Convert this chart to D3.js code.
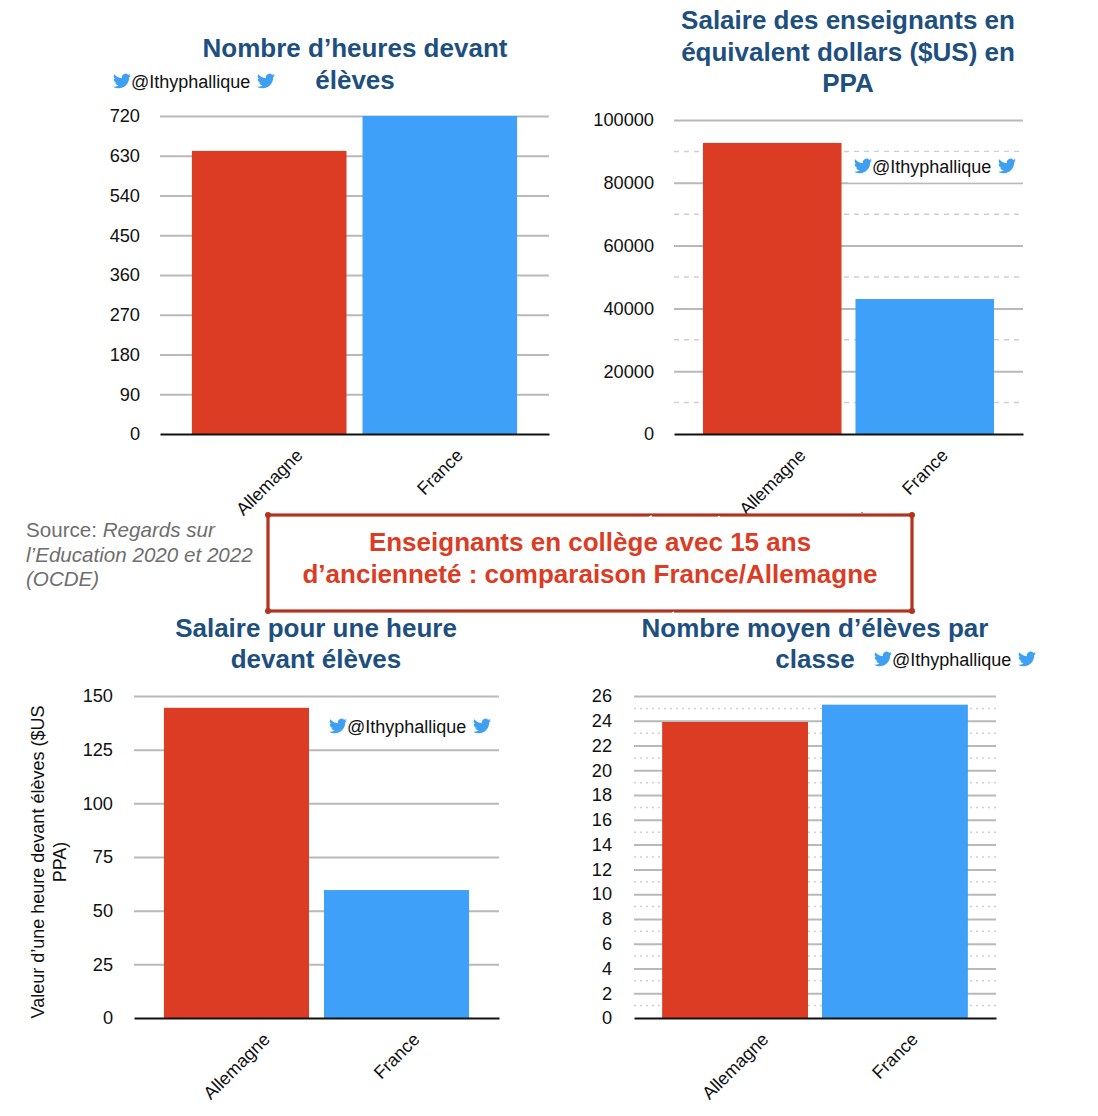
<!DOCTYPE html>
<html lang="fr">
<head>
<meta charset="utf-8">
<script src="https://cdn.jsdelivr.net/npm/d3@7"></script>
<style>
  html, body { margin: 0; padding: 0; background: #fff; }
  svg { display: block; }
  text { font-family: "Liberation Sans", Arial, sans-serif; }
</style>
</head>
<body>
<script>
// Data
const countries = ["Allemagne", "France"];
const hours = [641, 720];
const salaries = [92700, 43000];
const hourlyPay = [144.5, 59.6];
const classSize = [23.9, 25.3];

const hoursTicks = [0, 90, 180, 270, 360, 450, 540, 630, 720];
const salaryTicks = [0, 20000, 40000, 60000, 80000, 100000];
const salaryMinor = [10000, 30000, 50000, 70000, 90000];
const hourlyTicks = [0, 25, 50, 75, 100, 125, 150];
const classTicks = [0, 2, 4, 6, 8, 10, 12, 14, 16, 18, 20, 22, 24, 26];
const classMinor = [1, 3, 5, 7, 9, 11, 13, 15, 17, 19, 21, 23, 25];

const handle = "@Ithyphallique";
const barColors = ["#dc3c24", "#3ea0f8"];
const titleColor = "#1d4f7f";

const svg = d3.select("body").append("svg").attr("width", 1098).attr("height", 1116);

// Slight wobble for the hand-drawn frame of the headline box
const rough = svg.append("defs").append("filter").attr("id", "rough")
  .attr("filterUnits", "userSpaceOnUse")
  .attr("x", 255).attr("y", 503).attr("width", 670).attr("height", 120);
rough.append("feTurbulence").attr("type", "fractalNoise").attr("baseFrequency", 0.09)
  .attr("numOctaves", 2).attr("seed", 4).attr("result", "noise");
rough.append("feDisplacementMap").attr("in", "SourceGraphic").attr("in2", "noise").attr("scale", 1.6);

const BIRD = "M23.95 4.57a10 10 0 0 1-2.82.78 4.96 4.96 0 0 0 2.16-2.72c-.95.56-2 .96-3.12 1.19a4.92 4.92 0 0 0-8.38 4.48C7.69 8.1 4.07 6.13 1.64 3.16a4.82 4.82 0 0 0-.67 2.48c0 1.71.87 3.21 2.19 4.1a4.9 4.9 0 0 1-2.23-.61v.06a4.92 4.92 0 0 0 3.95 4.83 5 5 0 0 1-2.21.08 4.94 4.94 0 0 0 4.6 3.42A9.87 9.87 0 0 1 0 19.54a14 14 0 0 0 7.56 2.21c9.05 0 14-7.5 14-13.98 0-.21 0-.42-.02-.63a9.94 9.94 0 0 0 2.46-2.55z";

function bird(x, y) {
  svg.append("path").attr("d", BIRD)
    .attr("transform", `translate(${x},${y}) scale(0.75)`)
    .attr("fill", "#3ea0ee");
}

// Twitter handle flanked by two bird icons, optionally on a white plate
function signature(x, y, plateWidth) {
  if (plateWidth) {
    svg.append("rect").attr("x", x - 6).attr("y", y - 21)
      .attr("width", plateWidth).attr("height", 30.5).attr("fill", "#fff");
  }
  bird(x, y - 16);
  svg.append("text").attr("x", x + 18).attr("y", y)
    .attr("font-size", 18).attr("fill", "#111").text(handle);
  bird(x + 144, y - 16);
}

function panel(p) {
  const g = svg.append("g");
  const y = d3.scaleLinear().domain([0, p.max]).range([p.bottom, p.top]);
  const x = d3.scaleBand().domain(countries).range([p.left, p.right])
    .paddingInner(p.inner).paddingOuter(p.outer);

  // Minor gridlines
  g.selectAll("line.minor").data(p.minor || []).join("line")
    .attr("class", "minor")
    .attr("x1", p.left).attr("x2", p.right)
    .attr("y1", d => y(d)).attr("y2", d => y(d))
    .attr("stroke", "#cfcfcf").attr("stroke-width", 1.5)
    .attr("stroke-dasharray", p.minorDash);

  // Value axis: ticks become the major gridlines
  const yAxis = g.append("g").attr("transform", `translate(${p.left},0)`)
    .call(d3.axisLeft(y).tickValues(p.ticks).tickFormat(d3.format("d"))
      .tickSize(-(p.right - p.left)).tickPadding(p.pad));
  yAxis.select(".domain").remove();
  yAxis.selectAll(".tick line").attr("stroke", "#b9b9b9").attr("stroke-width", 2)
    .filter(d => d === 0).remove();
  yAxis.selectAll("text").attr("font-size", 18.2).attr("fill", "#111")
    .style("font-family", '"Liberation Sans", Arial, sans-serif');

  // Bars
  g.selectAll("rect.bar").data(p.values).join("rect")
    .attr("class", "bar")
    .attr("x", (d, i) => x(countries[i]))
    .attr("width", x.bandwidth())
    .attr("y", d => y(d))
    .attr("height", d => y(0) - y(d))
    .attr("fill", (d, i) => barColors[i]);

  // Category axis: slanted labels centred under their bars, top edges aligned
  const xAxis = g.append("g").attr("transform", `translate(0,${p.bottom})`)
    .call(d3.axisBottom(x).tickSize(0));
  xAxis.select(".domain").attr("stroke", "#111").attr("stroke-width", 2);
  xAxis.selectAll("text")
    .attr("font-size", 18).attr("fill", "#111")
    .style("font-family", '"Liberation Sans", Arial, sans-serif')
    .attr("text-anchor", "middle")
    .attr("y", 0).attr("dy", "0.35em")
    .attr("transform", function () {
      const half = this.getComputedTextLength() * Math.SQRT1_2 / 2;
      return `translate(${p.labelDx},${p.labelGap + half}) rotate(-45)`;
    });

  // Title
  const title = svg.append("text").attr("text-anchor", "middle")
    .attr("font-size", 26).attr("font-weight", 700).attr("fill", titleColor);
  p.title.forEach((line, i) => {
    title.append("tspan").attr("x", p.titleX).attr("y", p.titleY + i * p.titleStep).text(line);
  });
}

panel({
  values: hours, max: 720, ticks: hoursTicks,
  left: 160, right: 549, top: 116, bottom: 434, inner: 0.0936, outer: 0.187,
  pad: 20, labelDx: 0, labelGap: 18,
  title: ["Nombre d’heures devant", "élèves"], titleX: 355, titleY: 57, titleStep: 32
});
panel({
  values: salaries, max: 100000, ticks: salaryTicks, minor: salaryMinor, minorDash: "5 5",
  left: 674, right: 1023, top: 120, bottom: 434, inner: 0.0915, outer: 0.19,
  pad: 20, labelDx: 0, labelGap: 18,
  title: ["Salaire des enseignants en", "équivalent dollars ($US) en", "PPA"],
  titleX: 848, titleY: 29, titleStep: 31.5
});
panel({
  values: hourlyPay, max: 150, ticks: hourlyTicks,
  left: 134, right: 499, top: 696, bottom: 1018, inner: 0.0935, outer: 0.187,
  pad: 21, labelDx: 0, labelGap: 18,
  title: ["Salaire pour une heure", "devant élèves"], titleX: 316, titleY: 637, titleStep: 31
});
panel({
  values: classSize, max: 26, ticks: classTicks, minor: classMinor, minorDash: "2 4",
  left: 634, right: 996, top: 696, bottom: 1018, inner: 0.0875, outer: 0.176,
  pad: 22, labelDx: 0, labelGap: 18,
  title: ["Nombre moyen d’élèves par", "classe"], titleX: 815, titleY: 637, titleStep: 31
});

// Vertical axis caption of the hourly-pay panel
const yCaption = svg.append("text").attr("text-anchor", "middle")
  .attr("transform", "rotate(-90)")
  .attr("font-size", 18).attr("fill", "#111");
yCaption.append("tspan").attr("x", -862).attr("y", 44).text("Valeur d’une heure devant élèves ($US");
yCaption.append("tspan").attr("x", -862).attr("y", 66).text("PPA)");

signature(113, 88);
signature(854, 173, 175);
signature(329, 733, 166);
signature(874, 666);

// Source note
const src = svg.append("text").attr("font-size", 20.6).attr("fill", "#6e6e6e");
const srcLine1 = src.append("tspan").attr("x", 26).attr("y", 537);
srcLine1.append("tspan").text("Source: ");
srcLine1.append("tspan").attr("font-style", "italic").text("Regards sur");
src.append("tspan").attr("x", 26).attr("y", 562).attr("font-style", "italic").text("l’Education 2020 et 2022");
src.append("tspan").attr("x", 26).attr("y", 586).attr("font-style", "italic").text("(OCDE)");

// Headline box
svg.append("rect").attr("x", 268).attr("y", 515).attr("width", 644).attr("height", 96).attr("fill", "#fff");
const frame = svg.append("g").attr("filter", "url(#rough)");
frame.append("rect").attr("x", 268).attr("y", 515).attr("width", 644).attr("height", 96)
  .attr("fill", "none").attr("stroke", "#b5311f").attr("stroke-width", 3.2);
frame.selectAll("circle").data([[268, 515], [912, 515], [268, 611], [912, 611]]).join("circle")
  .attr("cx", d => d[0]).attr("cy", d => d[1]).attr("r", 3).attr("fill", "#b5311f");

const head = svg.append("text").attr("text-anchor", "middle")
  .attr("font-size", 26).attr("font-weight", 700).attr("fill", "#dc3c24");
head.append("tspan").attr("x", 590).attr("y", 551).text("Enseignants en collège avec 15 ans");
head.append("tspan").attr("x", 590).attr("y", 583).text("d’ancienneté : comparaison France/Allemagne");
</script>
</body>
</html>
